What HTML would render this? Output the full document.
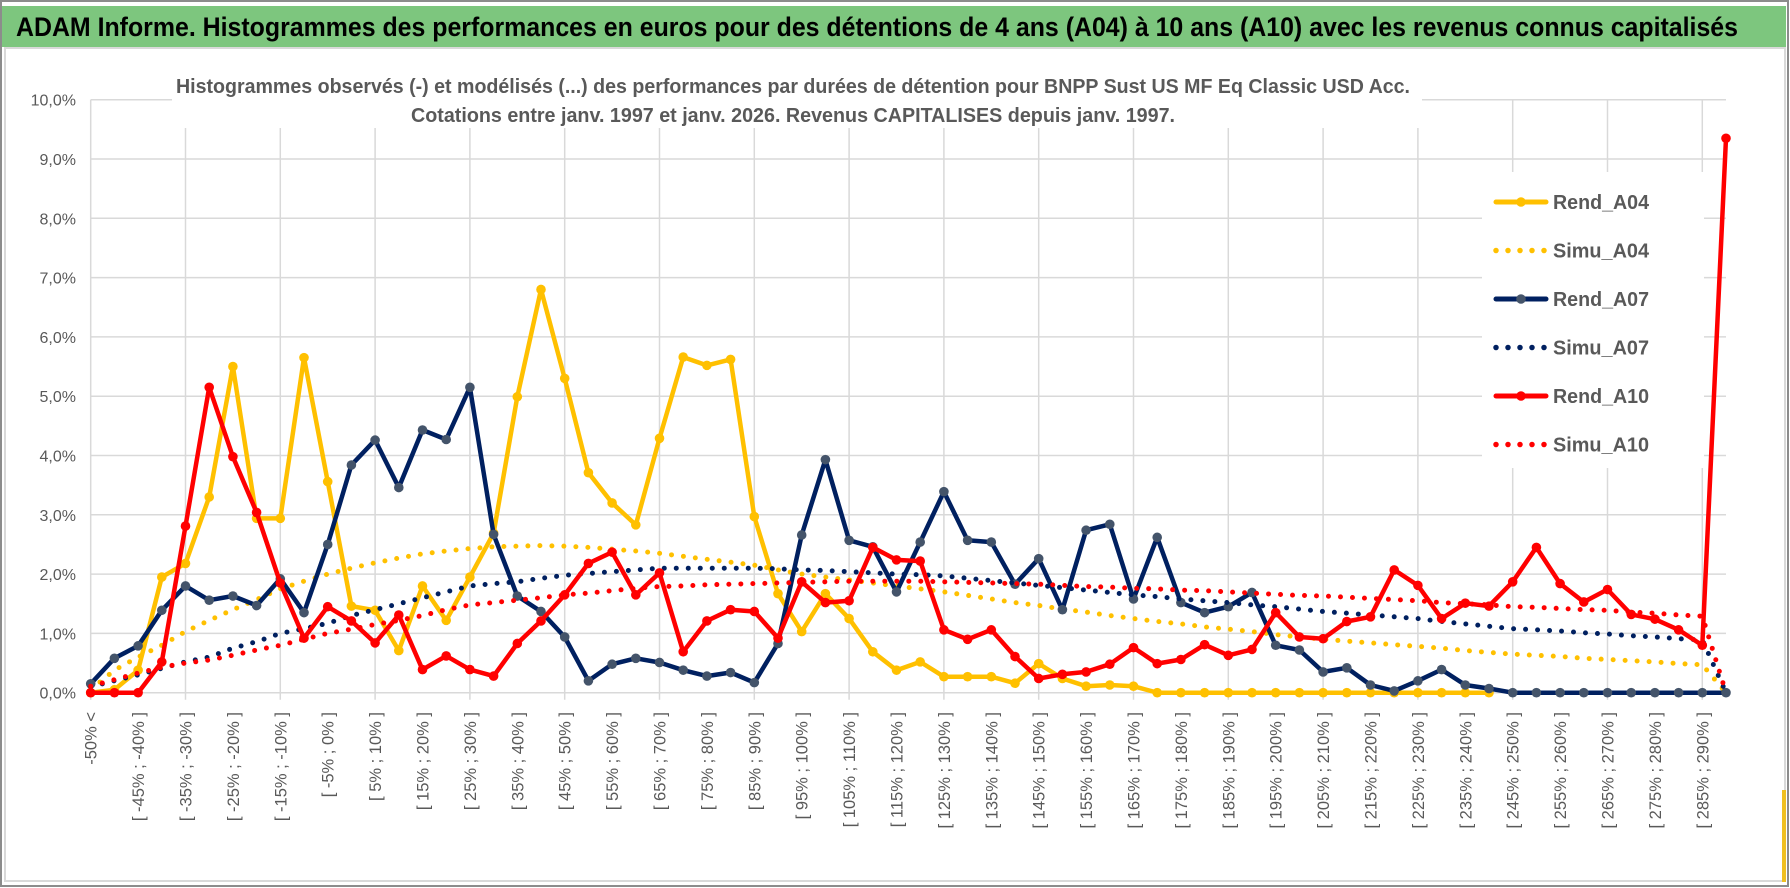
<!DOCTYPE html>
<html><head><meta charset="utf-8">
<style>
html,body{margin:0;padding:0;background:#fff;}
svg{display:block;font-family:"Liberation Sans",sans-serif;}
</style></head>
<body>
<svg id="chart" width="1790" height="888" viewBox="0 0 1790 888" xmlns="http://www.w3.org/2000/svg">
  <rect x="0" y="0" width="1790" height="888" fill="#fff"/>
  <rect x="1" y="1" width="1787" height="885" fill="none" stroke="#8c8c8c" stroke-width="2"/>
  <rect x="2" y="6" width="1784" height="41" fill="#7dc67e"/>
  <text x="16" y="36" font-size="27" font-weight="bold" fill="#000" textLength="1722" lengthAdjust="spacingAndGlyphs">ADAM Informe. Histogrammes des performances en euros pour des détentions de 4 ans (A04) à 10 ans (A10) avec les revenus connus capitalisés</text>
  <rect x="5" y="48" width="1780" height="833" fill="none" stroke="#d9d9d9" stroke-width="2"/>
  <rect x="1782" y="790" width="4" height="92" fill="#f0c020"/>
  <g id="grid"></g>
  <g id="yaxis"></g>
  <g id="xaxis"></g>
  <rect x="172" y="66" width="1250" height="62" fill="#fff"/>
  <text x="793" y="93" font-size="20" font-weight="bold" fill="#595959" text-anchor="middle" textLength="1234" lengthAdjust="spacingAndGlyphs">Histogrammes observés (-) et modélisés (...) des performances par durées de détention pour BNPP Sust US MF Eq Classic USD Acc.</text>
  <text x="793" y="122" font-size="20" font-weight="bold" fill="#595959" text-anchor="middle" textLength="764" lengthAdjust="spacingAndGlyphs">Cotations entre janv. 1997 et janv. 2026. Revenus CAPITALISES depuis janv. 1997.</text>
  <g id="series"></g>
  <g id="legend"></g>
</svg>
<script>
const categories = [];
categories.push('-50% <');
for (let k = 1; k <= 68; k++) { const lo = -50 + 5 * (k - 1); categories.push('[ ' + lo + '% ; ' + (lo + 5) + '% ]'); }
categories.push('> 290%');

const yTicks = [0,1,2,3,4,5,6,7,8,9,10];
const yTickLabels = ['0,0%','1,0%','2,0%','3,0%','4,0%','5,0%','6,0%','7,0%','8,0%','9,0%','10,0%'];

const rendA04 = [0,0.05,0.38,1.95,2.18,3.3,5.5,2.94,2.94,5.65,
 3.56,1.46,1.39,0.71,1.8,1.22,1.95,2.69,4.99,6.8,
 5.3,3.71,3.2,2.83,4.29,5.66,5.52,5.62,2.97,1.67,
 1.03,1.67,1.25,0.69,0.38,0.52,0.27,0.27,0.27,0.16,
 0.49,0.24,0.11,0.13,0.11,0,0,0,0,0,
 0,0,0,0,0,0,0,0,0,0,
 null,null,null,null,null,null,null,null,null,null];
const simuA04 = [0.05,0.38,0.6,0.8,1.03,1.22,1.4,1.57,1.75,1.88,
 2.0,2.1,2.19,2.27,2.34,2.39,2.43,2.46,2.47,2.48,
 2.47,2.45,2.42,2.39,2.35,2.3,2.25,2.2,2.15,2.07,
 2.0,1.95,1.9,1.85,1.8,1.75,1.7,1.64,1.58,1.52,
 1.47,1.41,1.36,1.3,1.25,1.2,1.16,1.11,1.07,1.03,
 0.98,0.94,0.9,0.87,0.84,0.81,0.78,0.75,0.71,0.68,
 0.65,0.63,0.61,0.58,0.56,0.54,0.52,0.49,0.47,0.0];
const rendA07 = [0.15,0.58,0.79,1.39,1.8,1.56,1.63,1.47,1.92,1.35,
 2.5,3.84,4.26,3.46,4.43,4.27,5.15,2.67,1.63,1.37,
 0.94,0.2,0.48,0.58,0.51,0.38,0.28,0.34,0.17,0.83,
 2.66,3.93,2.57,2.46,1.7,2.54,3.39,2.57,2.54,1.83,
 2.26,1.4,2.74,2.84,1.58,2.62,1.52,1.35,1.45,1.69,
 0.8,0.72,0.35,0.42,0.13,0.03,0.2,0.39,0.13,0.07,
 0,0,0,0,0,0,0,0,0,0];
const simuA07 = [0.1,0.2,0.3,0.41,0.52,0.6,0.75,0.86,1.0,1.08,
 1.17,1.3,1.4,1.5,1.6,1.7,1.8,1.84,1.87,1.93,
 1.98,2.01,2.04,2.07,2.1,2.1,2.1,2.1,2.1,2.09,
 2.07,2.06,2.04,2.02,2.0,1.99,1.97,1.93,1.89,1.85,
 1.81,1.77,1.73,1.69,1.65,1.62,1.58,1.55,1.52,1.48,
 1.45,1.41,1.37,1.34,1.31,1.28,1.25,1.2,1.16,1.12,
 1.08,1.06,1.04,1.01,0.99,0.96,0.94,0.91,0.89,0.0];
const rendA10 = [0,0,0,0.52,2.81,5.15,3.98,3.04,1.85,0.92,
 1.45,1.21,0.84,1.31,0.39,0.62,0.39,0.28,0.83,1.21,
 1.65,2.18,2.37,1.65,2.02,0.69,1.21,1.4,1.37,0.92,
 1.87,1.52,1.55,2.45,2.24,2.22,1.06,0.9,1.06,0.61,
 0.24,0.31,0.35,0.48,0.76,0.49,0.56,0.81,0.63,0.73,
 1.35,0.94,0.91,1.2,1.28,2.07,1.81,1.25,1.51,1.46,
 1.87,2.45,1.84,1.53,1.74,1.32,1.24,1.06,0.8,9.35];
const simuA10 = [0.11,0.22,0.33,0.43,0.5,0.55,0.63,0.72,0.8,0.9,
 1.0,1.07,1.15,1.22,1.3,1.4,1.48,1.52,1.56,1.6,
 1.65,1.68,1.72,1.76,1.79,1.8,1.82,1.83,1.84,1.85,
 1.86,1.87,1.88,1.88,1.88,1.88,1.87,1.86,1.85,1.84,
 1.83,1.81,1.79,1.78,1.76,1.75,1.73,1.72,1.7,1.68,
 1.66,1.64,1.63,1.61,1.59,1.57,1.55,1.52,1.5,1.48,
 1.45,1.44,1.42,1.4,1.39,1.36,1.34,1.31,1.29,0.0];

const seriesNames = ['Rend_A04','Simu_A04','Rend_A07','Simu_A07','Rend_A10','Simu_A10'];

const NS = 'http://www.w3.org/2000/svg';
const X0 = 90.7, DX = 23.7, Y0 = 692.7, DY = 59.3;
function xScale(i){ return X0 + DX * i; }
function yScale(v){ return Y0 - DY * v; }
function mk(tag, attrs, parent){ const e = document.createElementNS(NS, tag); for (const k in attrs) e.setAttribute(k, attrs[k]); parent.appendChild(e); return e; }

const grid = document.getElementById('grid');
const yaxis = document.getElementById('yaxis');
const xaxis = document.getElementById('xaxis');
const plotRight = xScale(categories.length - 1);
yTicks.forEach((t, k) => {
  const ln = mk('line', {x1: X0, x2: plotRight, y1: yScale(t), y2: yScale(t), stroke: '#d9d9d9', 'stroke-width': 1.5}, grid);
  
  
  const tx = mk('text', {x: 76, y: yScale(t) + 6, 'font-size': 16, fill: '#595959', 'text-anchor': 'end'}, yaxis);
  tx.textContent = yTickLabels[k];
  
  
});
for (let i = 0; i < categories.length; i += 4) {
  const ln = mk('line', {x1: xScale(i), x2: xScale(i), y1: yScale(10), y2: Y0 + 7, stroke: '#d9d9d9', 'stroke-width': 1.5}, grid);
  
  
}
categories.forEach((c, i) => {
  if (i % 2 !== 0 || i > 68) return;
  const x = xScale(i) + 6, y = 712;
  const tx = mk('text', {x: x, y: y, 'font-size': 16.5, fill: '#595959', 'text-anchor': 'end', transform: 'rotate(-90 ' + x + ' ' + y + ')'}, xaxis);
  tx.textContent = c;
  
  
});

const series = document.getElementById('series');
function drawRend(vals, color, markerFill, name){
  const g = mk('g', {}, series);
  
  
  const pts = [];
  vals.forEach((v, i) => { if (v !== null) pts.push(xScale(i).toFixed(1) + ',' + yScale(v).toFixed(1)); });
  const pl = mk('polyline', {points: pts.join(' '), fill: 'none', stroke: color, 'stroke-width': 4.5, 'stroke-linejoin': 'round'}, g);
  
  
  vals.forEach((v, i) => {
    if (v === null) return;
    const c = mk('circle', {cx: xScale(i), cy: yScale(v), r: 4.8, fill: markerFill}, g);
    
    
  });
}
function drawSimu(vals, color, name){
  const pts = vals.map((v, i) => xScale(i).toFixed(1) + ',' + yScale(v).toFixed(1));
  const pl = mk('polyline', {points: pts.join(' '), fill: 'none', stroke: color, 'stroke-width': 5, 'stroke-linecap': 'round', 'stroke-dasharray': '0 12'}, series);
  
  
}
drawRend(rendA04, '#ffc000', '#ffc000', 'rend-a04');
drawSimu(simuA04, '#ffc000', 'simu-a04');
drawRend(rendA07, '#002060', '#44546a', 'rend-a07');
drawSimu(simuA07, '#002060', 'simu-a07');
drawRend(rendA10, '#ff0000', '#ff0000', 'rend-a10');
drawSimu(simuA10, '#ff0000', 'simu-a10');

const legend = document.getElementById('legend');
const lbg = mk('rect', {x: 1482, y: 172, width: 222, height: 296, fill: '#fff'}, legend);


const legColors = ['#ffc000','#ffc000','#002060','#002060','#ff0000','#ff0000'];
const legMarks = ['#ffc000','#ffc000','#44546a','#44546a','#ff0000','#ff0000'];
seriesNames.forEach((n, k) => {
  const y = 202 + 48.5 * k;
  const g = mk('g', {}, legend);
  
  
  if (k % 2 === 0) {
    mk('line', {x1: 1496, x2: 1546, y1: y, y2: y, stroke: legColors[k], 'stroke-width': 5, 'stroke-linecap': 'round'}, g);
    mk('circle', {cx: 1521, cy: y, r: 4.8, fill: legMarks[k]}, g);
  } else {
    mk('line', {x1: 1496, x2: 1546, y1: y, y2: y, stroke: legColors[k], 'stroke-width': 5.5, 'stroke-linecap': 'round', 'stroke-dasharray': '0 12'}, g);
  }
  const tx = mk('text', {x: 1553, y: y + 7, 'font-size': 20, 'font-weight': 'bold', fill: '#595959', textLength: 96, lengthAdjust: 'spacingAndGlyphs'}, g);
  tx.textContent = n;
});
</script>
</body></html>
